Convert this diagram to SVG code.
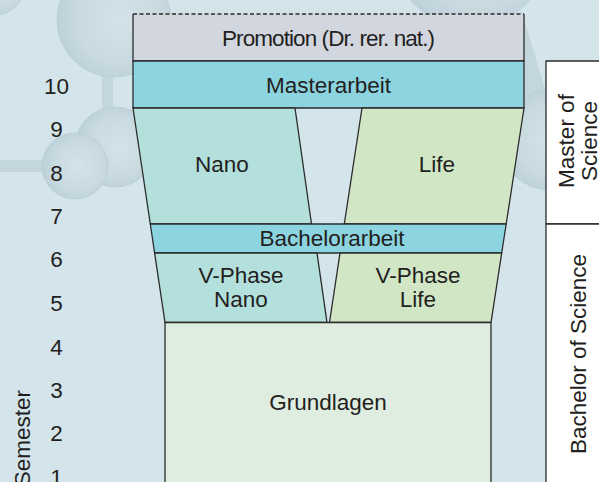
<svg xmlns="http://www.w3.org/2000/svg" width="599" height="482" viewBox="0 0 599 482">
<style>
.t{font-family:"Liberation Sans",Arial,Helvetica,sans-serif;font-size:22.5px;fill:#231f20}
.m{text-anchor:middle}
.e{stroke:#2b2b2b;stroke-width:1.3;stroke-linejoin:round}
.sph{fill:url(#sg);stroke:#bccfd8;stroke-width:1}
.stick{fill:#c3d5dd}
</style>
<defs>
<radialGradient id="sg" cx="0.55" cy="0.5" r="0.55">
<stop offset="0" stop-color="#d4e3e9"/>
<stop offset="0.7" stop-color="#c8d9e0"/>
<stop offset="1" stop-color="#bdd0d8"/>
</radialGradient>
</defs>
<rect width="599" height="482" fill="#d3e4eb"/>
<g id="molecule">
<rect class="stick" x="102" y="60" width="11" height="60"/>
<rect class="stick" x="0" y="160" width="50" height="12"/>
<path class="stick" d="M500 20 L522 12 L560 140 L538 148 Z"/>
<circle class="sph" cx="-8" cy="-18" r="34"/>
<circle class="sph" cx="114" cy="20" r="57"/>
<circle class="sph" cx="470" cy="-52" r="79"/>
<circle class="sph" cx="550" cy="140" r="50"/>
<circle class="sph" cx="115" cy="147" r="40"/>
<circle class="sph" cx="75" cy="166" r="33"/>
</g>
<g id="promotion">
<rect x="133" y="14" width="391" height="47" fill="#d2d6de"/>
<path class="e" d="M133 14 V61 H524 V14" fill="none"/>
<path class="e" d="M133 14 H524" stroke-dasharray="4 2.5" fill="none"/>
<text class="t m" x="328.5" y="46" textLength="213" lengthAdjust="spacing">Promotion (Dr. rer. nat.)</text>
</g>
<g id="masterarbeit">
<rect class="e" x="133" y="61" width="391" height="47" fill="#8bd4e0"/>
<text class="t m" x="328.5" y="93">Masterarbeit</text>
</g>
<g id="nano">
<polygon class="e" points="133,108 295,108 311.5,224 150.3,224" fill="#b3dfdc"/>
<text class="t m" x="222" y="172.3">Nano</text>
</g>
<g id="life">
<polygon class="e" points="362,108 524,108 506.2,224 344.3,224" fill="#d0e6c5"/>
<text class="t m" x="437" y="172.3">Life</text>
</g>
<g id="bachelorarbeit">
<polygon class="e" points="150.3,224 506.2,224 501.7,253 154.6,253" fill="#8bd4e0"/>
<text class="t m" x="332" y="245.7">Bachelorarbeit</text>
</g>
<g id="vphase-nano">
<polygon class="e" points="154.6,253 317,253 327,322.5 165,322.5" fill="#b3dfdc"/>
<text class="t m" x="241" y="283.3">V-Phase</text>
<text class="t m" x="241" y="307.3">Nano</text>
</g>
<g id="vphase-life">
<polygon class="e" points="340,253 501.7,253 491,322.5 329.5,322.5" fill="#d0e6c5"/>
<text class="t m" x="418" y="283.3">V-Phase</text>
<text class="t m" x="418" y="307.3">Life</text>
</g>
<g id="grundlagen">
<polygon class="e" points="165,490 165,322.5 491,322.5 491,490" fill="#deede0"/>
<text class="t m" x="328" y="410">Grundlagen</text>
</g>
<g id="master-of-science">
<rect class="e" x="546" y="61" width="70" height="163" fill="#ffffff"/>
<text class="t m" transform="translate(574,141) rotate(-90)">Master of</text>
<text class="t m" transform="translate(596.5,141) rotate(-90)">Science</text>
</g>
<g id="bachelor-of-science">
<rect class="e" x="546" y="224" width="70" height="270" fill="#ffffff"/>
<text class="t m" transform="translate(586,354) rotate(-90)">Bachelor of Science</text>
</g>
<g id="semester-axis">
<text class="t" transform="translate(29.5,390) rotate(-90)" text-anchor="end">Semester</text>
<text class="t m" x="56.5" y="94">10</text>
<text class="t m" x="56.5" y="137">9</text>
<text class="t m" x="56.5" y="180.5">8</text>
<text class="t m" x="56.5" y="223.5">7</text>
<text class="t m" x="56.5" y="267">6</text>
<text class="t m" x="56.5" y="310.5">5</text>
<text class="t m" x="56.5" y="354.5">4</text>
<text class="t m" x="56.5" y="397.5">3</text>
<text class="t m" x="56.5" y="441">2</text>
<text class="t m" x="56.5" y="484.5">1</text>
</g>
</svg>
